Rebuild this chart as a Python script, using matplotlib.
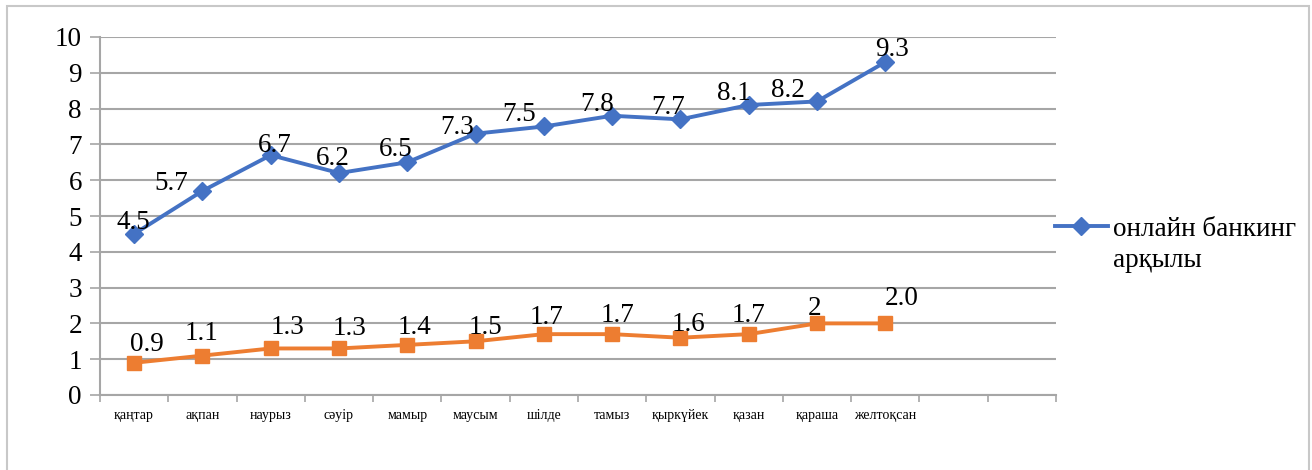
import matplotlib.pyplot as plt
from matplotlib.patches import Rectangle
import numpy as np

plt.rcParams['font.family'] = ['Liberation Serif', 'DejaVu Serif']

# data
months = ['қаңтар', 'ақпан', 'наурыз', 'сәуір', 'мамыр', 'маусым', 'шілде',
          'тамыз', 'қыркүйек', 'қазан', 'қараша', 'желтоқсан', '', '']
online = [4.5, 5.7, 6.7, 6.2, 6.5, 7.3, 7.5, 7.8, 7.7, 8.1, 8.2, 9.3]
online_lbl = ['4.5', '5.7', '6.7', '6.2', '6.5', '7.3', '7.5', '7.8', '7.7', '8.1', '8.2', '9.3']
other = [0.9, 1.1, 1.3, 1.3, 1.4, 1.5, 1.7, 1.7, 1.6, 1.7, 2.0, 2.0]
other_lbl = ['0.9', '1.1', '1.3', '1.3', '1.4', '1.5', '1.7', '1.7', '1.6', '1.7', '2', '2.0']
legend_line1 = 'онлайн банкинг'
legend_line2 = 'арқылы'

# label offsets in pixels (as placed in the original)
online_off = [(-1, 11), (-31, 7), (4, 10), (-6, 15), (-12, 13), (-18, 6),
              (-25, 12), (-15, 11), (-12, 12), (-15, 12), (-29, 11), (7, 13)]
other_off = [(13, 18), (-1, 22), (17, 21), (10, 20), (7, 17), (10, 14),
             (3, 17), (5, 19), (8, 13), (0, 19), (-2, 15), (16, 25)]

blue = '#4472C4'
orange = '#ED7D31'
grid = '#A6A6A6'
fs = 19.5

fig = plt.figure(figsize=(13.12, 4.7), dpi=100)
ax = fig.add_axes([100/1312, 1 - 395/470, 956/1312, 358/470])

# chart border
fig.patches.append(Rectangle((7/1312, -0.05), 1302/1312, 1 - 6/470 + 0.05,
                             transform=fig.transFigure, fill=False,
                             edgecolor='#C8C8C8', lw=1.5))

x = np.arange(len(online))
ax.plot(x, online, color=blue, lw=2.8, marker='D', ms=9.5, label=legend_line1, zorder=3)
ax.plot(x, other, color=orange, lw=2.8, marker='s', ms=10, zorder=3)

for xi, v, t, (dx, dy) in zip(x, online, online_lbl, online_off):
    ax.annotate(t, (xi, v), xytext=(dx, dy), textcoords='offset pixels',
                ha='center', va='center', fontsize=fs, zorder=4)
for xi, v, t, (dx, dy) in zip(x, other, other_lbl, other_off):
    ax.annotate(t, (xi, v), xytext=(dx, dy), textcoords='offset pixels',
                ha='center', va='center', fontsize=fs, zorder=4)

ax.set_xlim(-0.5, len(months) - 0.5)
ax.set_ylim(0, 10)
ax.set_yticks(range(0, 11))
ax.set_xticks(np.arange(len(months)))
ax.set_xticklabels(months, fontsize=10)
ax.set_xticks(np.arange(len(months) + 1) - 0.5, minor=True)
ax.tick_params(axis='x', which='major', length=0, pad=10)
ax.tick_params(axis='x', which='minor', length=5, color=grid, width=1.2)
ax.tick_params(axis='y', length=7, color=grid, width=1.2, labelsize=fs, pad=6)

ax.grid(axis='y', color=grid, lw=1.5)
ax.set_axisbelow(True)
for s in ['top', 'right']:
    ax.spines[s].set_visible(False)
for s in ['left', 'bottom']:
    ax.spines[s].set_color(grid)
    ax.spines[s].set_linewidth(1.5)

fig.legend(loc='center left', bbox_to_anchor=(1055/1312, 1 - 229/470),
           bbox_transform=fig.transFigure, frameon=False, fontsize=fs,
           handlelength=1.95, handletextpad=0.2, borderpad=0, borderaxespad=0)
fig.text(1113/1312, 1 - 267/470, legend_line2, fontsize=fs, va='baseline', ha='left')

fig.savefig('out.png', dpi=100)
